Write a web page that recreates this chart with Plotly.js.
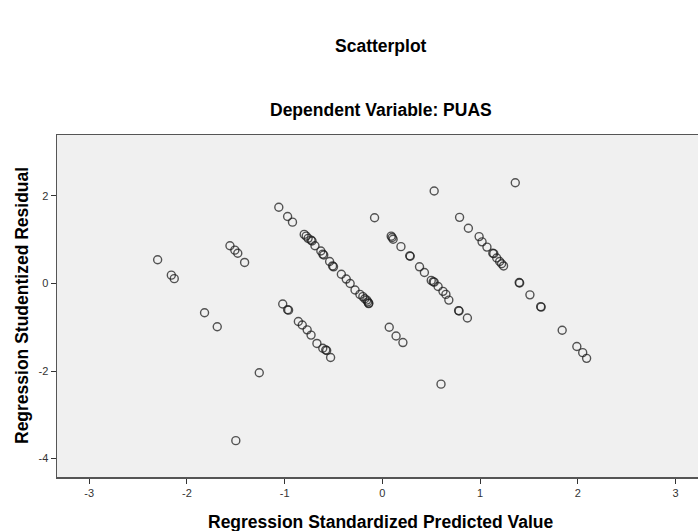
<!DOCTYPE html>
<html>
<head>
<meta charset="utf-8">
<script src="https://cdn.plot.ly/plotly-3.0.1.min.js"></script>
<style>html,body{margin:0;padding:0;background:#fff;}#chart{width:699px;height:531px;}</style>
</head>
<body>
<div id="chart"></div>
<script>
// Regression Standardized Predicted Value
var predicted = [
  -2.30, -2.16, -2.13, -1.82, -1.69, -1.26, -1.50,
  -1.56, -1.51, -1.48, -1.41,
  -1.06, -0.97, -0.92, -0.80, -0.78, -0.76, -0.73, -0.72, -0.69, -0.63, -0.61, -0.60,
  -0.54, -0.51, -0.50, -0.42, -0.37, -0.33, -0.28, -0.23, -0.20, -0.18, -0.16, -0.15, -0.14, -0.14,
  -0.08,
  -1.02, -0.97, -0.96, -0.86, -0.82, -0.77, -0.73, -0.67, -0.61, -0.58, -0.57, -0.53,
  0.53,
  0.09, 0.10, 0.11, 0.19, 0.28, 0.285, 0.38, 0.43, 0.50, 0.52, 0.53, 0.57, 0.62, 0.65, 0.68, 0.78, 0.785, 0.87,
  0.07, 0.14, 0.21,
  0.60,
  1.36,
  0.79, 0.88, 0.99, 1.02, 1.07, 1.13, 1.14, 1.17, 1.20, 1.22, 1.24, 1.40, 1.405, 1.51, 1.62, 1.625,
  1.84, 1.99, 2.05, 2.09
];
// Regression Studentized Residual
var residual = [
  0.54, 0.19, 0.11, -0.67, -0.99, -2.04, -3.59,
  0.86, 0.76, 0.69, 0.48,
  1.74, 1.53, 1.40, 1.12, 1.08, 1.03, 0.99, 0.97, 0.86, 0.74, 0.67, 0.65,
  0.50, 0.40, 0.38, 0.21, 0.10, 0.00, -0.15, -0.25, -0.30, -0.35, -0.38, -0.42, -0.45, -0.46,
  1.50,
  -0.47, -0.60, -0.61, -0.87, -0.95, -1.06, -1.18, -1.37, -1.48, -1.52, -1.53, -1.69,
  2.11,
  1.08, 1.05, 1.01, 0.84, 0.63, 0.62, 0.38, 0.25, 0.07, 0.04, 0.03, -0.07, -0.18, -0.25, -0.38, -0.62, -0.63, -0.79,
  -1.00, -1.20, -1.35,
  -2.30,
  2.30,
  1.51, 1.26, 1.07, 0.95, 0.83, 0.69, 0.68, 0.58, 0.50, 0.45, 0.40, 0.02, 0.01, -0.26, -0.53, -0.54,
  -1.07, -1.44, -1.58, -1.71
];
var xTicks = [-3, -2, -1, 0, 1, 2, 3];
var yTicks = [-4, -2, 0, 2];

var trace = {
  x: predicted,
  y: residual,
  type: 'scatter',
  mode: 'markers',
  marker: {
    symbol: 'circle-open',
    size: 8,
    color: 'rgba(30,30,30,0.75)',
    line: {width: 1.4}
  },
  hoverinfo: 'skip'
};

var fontFam = 'Arial, "Liberation Sans", sans-serif';
var titleFont = {size: 17.5, color: '#000', family: fontFam};
var layout = {
  width: 699,
  height: 531,
  margin: {l: 57, r: 1, t: 135, b: 54, pad: 0},
  paper_bgcolor: '#ffffff',
  plot_bgcolor: '#f0f0f0',
  showlegend: false,
  font: {family: fontFam, color: '#333'},
  xaxis: {
    range: [-3.33, 3.23],
    tickvals: xTicks,
    ticktext: xTicks.map(String),
    ticks: 'outside',
    ticklen: 5,
    tickwidth: 1,
    tickcolor: '#333',
    tickfont: {size: 11, color: '#333', family: fontFam},
    showgrid: false,
    zeroline: false,
    showline: true,
    linecolor: '#555',
    linewidth: 1.5,
    mirror: true
  },
  yaxis: {
    range: [-4.42, 3.39],
    tickvals: yTicks,
    ticktext: yTicks.map(String),
    ticks: 'outside',
    ticklen: 5,
    tickwidth: 1,
    tickcolor: '#333',
    tickfont: {size: 11, color: '#333', family: fontFam},
    showgrid: false,
    zeroline: false,
    showline: true,
    linecolor: '#555',
    linewidth: 1.5
  },
  annotations: [
    {text: '<b>Scatterplot</b>', xref: 'paper', yref: 'paper', x: 0.505, y: 1.0, yshift: 89, showarrow: false,
     xanchor: 'center', yanchor: 'middle', font: titleFont},
    {text: '<b>Dependent Variable: PUAS</b>', xref: 'paper', yref: 'paper', x: 0.505, y: 1.0, yshift: 25, showarrow: false,
     xanchor: 'center', yanchor: 'middle', font: titleFont},
    {text: '<b>Regression Standardized Predicted Value</b>', xref: 'paper', yref: 'paper', x: 0.505, y: 0, yshift: -45, showarrow: false,
     xanchor: 'center', yanchor: 'middle', font: titleFont},
    {text: '<b>Regression Studentized Residual</b>', xref: 'paper', yref: 'paper', x: 0, xshift: -35, y: 0.5, textangle: -90, showarrow: false,
     xanchor: 'center', yanchor: 'middle', font: titleFont}
  ]
};

Plotly.newPlot('chart', [trace], layout, {displayModeBar: false, staticPlot: true});
</script>
</body>
</html>
